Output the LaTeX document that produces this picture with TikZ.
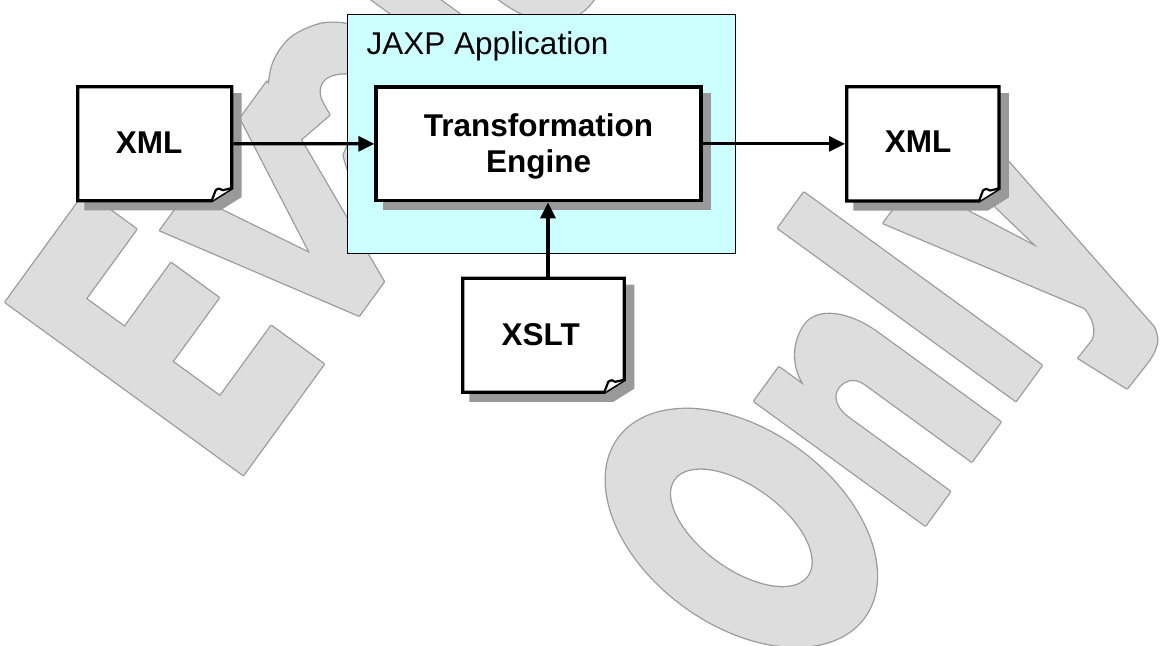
\documentclass[tikz,border=0pt]{standalone}
\usepackage{fontspec}
\setmainfont{Liberation Sans}
\usetikzlibrary{arrows.meta,shadows}

\definecolor{appcyan}{RGB}{204,255,255}
\definecolor{dropshade}{RGB}{153,153,153}
\definecolor{markfill}{RGB}{221,221,221}
\definecolor{markline}{RGB}{155,155,155}

\tikzset{
  markedge/.style={draw=markline, line width=2.6pt, line join=round},
  markface/.style={fill=markfill},
  boxedge/.style={draw=black, line width=3.3pt, line join=miter},
  pagebox/.style={rectangle, inner sep=0pt, outer sep=0pt},
  boldtext/.style={inner sep=0pt, font=\fontsize{31.5pt}{36pt}\selectfont\bfseries},
  plaintext/.style={inner sep=0pt, font=\fontsize{31.5pt}{36pt}\selectfont},
  flow/.style={draw=black, line width=3.2pt, -{Triangle[length=16pt,width=15pt]},
               shorten <=1.65pt, shorten >=1.65pt}
}

% watermark glyph outlines (glyph frame: x along the baseline, y up)
\newcommand\glyphE{(0,0) -- (137,0) -- (137,65) -- (50,65) -- (50,124) -- (129,124)
  -- (129,183) -- (50,183) -- (50,231) -- (136,231) -- (136,294) -- (0,294) -- cycle}
\newcommand\glyphV{(149,211) -- (195,211) -- (218.6,76) -- (287,212) -- (332,212)
  -- (239,0) -- (197,0) -- cycle}
\newcommand\glyphA{(342,142) -- (304,151) -- (298,185)
  -- plot[smooth, tension=0.6] coordinates {(326,206) (351,218) (379,219) (403,208) (418,194) (430,172) (438,145)}
  -- (440,0) -- (398,0)
  -- plot[smooth, tension=0.6] coordinates {(396,14) (372,-3) (335,-3) (305,20) (298,55) (305,88) (318,107)}
  -- (392,122)
  -- plot[smooth, tension=0.6] coordinates {(392,122) (388,148) (376,163) (363,167) (351,160) (342,142)}
  -- cycle}
\newcommand\glyphL{(460,0) -- (500,0) -- (500,294) -- (460,294) -- cycle}
\newcommand\glyphU{(535,211) -- (535,70) .. controls (535,22) and (556,-4) .. (590,-4)
  .. controls (604,-4) and (614,2) .. (621,10) -- (621,0) -- (662,0) -- (662,211)
  -- (620,211) -- (620,95) .. controls (620,60) and (606,42) .. (592,42)
  .. controls (583,42) and (578,52) .. (578,75) -- (578,211) -- cycle}
\newcommand\glyphO{(250,-434) ellipse [x radius=97, y radius=152]
  (250,-434) ellipse [x radius=42, y radius=83]}
\newcommand\glyphN{(360,-581.5) -- (360,-370) -- (402,-370) -- (402,-402)
  .. controls (410,-380) and (430,-366) .. (452,-366)
  .. controls (472,-366) and (488,-392) .. (488,-430) -- (488,-581.5) -- (439,-581.5)
  -- (439,-450) .. controls (439,-436) and (430,-430) .. (420,-430)
  .. controls (410,-430) and (402,-440) .. (402,-455) -- (402,-581.5) -- cycle}
\newcommand\glyphLL{(514,-581.5) -- (558,-581.5) -- (558,-287.5) -- (514,-287.5) -- cycle}
\newcommand\glyphY{(580,-370) -- (630.5,-370) -- (651,-510) -- (670.6,-370) -- (717.7,-370)
  -- (655,-649) .. controls (648,-664) and (636,-666) .. (615,-665) -- (589.5,-664)
  -- (585.4,-607) -- (608,-608) .. controls (618,-606) and (626,-597) .. (629.8,-583) -- cycle}

% document symbol with drop shadow and turned-up corner
\newcommand\docpage[1]{%
  \filldraw[dropshade, line width=3.3pt]
    ([shift={(8.3,8)}]#1.north west) -- ([shift={(8.3,8)}]#1.north east)
    -- ([shift={(8.3,-4.5)}]#1.south east) -- ([shift={(-11.7,8)}]#1.south east)
    -- ([shift={(8.3,8)}]#1.south west) -- cycle;
  \filldraw[boxedge, fill=white]
    (#1.north west) -- (#1.north east) -- ([shift={(0,-12.5)}]#1.south east)
    -- ([shift={(-20,0)}]#1.south east) -- (#1.south west) -- cycle;
  \filldraw[line width=2.2pt, fill=white, line join=round]
    ([shift={(-20,0)}]#1.south east) -- ([shift={(-16,-10.5)}]#1.south east)
    .. controls ([shift={(-13,-12.5)}]#1.south east) .. ([shift={(-9,-10.5)}]#1.south east)
    -- ([shift={(0,-12.5)}]#1.south east);
}

\begin{document}
\begin{tikzpicture}[x=1pt, y=-1pt]
\useasboundingbox (0,0) rectangle (1164,645);
\fill[white] (0,0) rectangle (1164,645);

% watermark lettering
\begin{scope}[shift={(243.3,475)}, x={(0.5878pt,0.8090pt)}, y={(-0.8090pt,0.5878pt)}]
  \draw[markedge] \glyphE \glyphV \glyphA \glyphL \glyphU \glyphO \glyphN \glyphLL \glyphY;
  \fill[markface] \glyphE;
  \fill[markface] \glyphV;
  \fill[markface] \glyphA;
  \fill[markface] \glyphL;
  \fill[markface] \glyphU;
  \fill[markface, even odd rule] \glyphO;
  \fill[markface] \glyphN;
  \fill[markface] \glyphLL;
  \fill[markface] \glyphY;
\end{scope}

% application frame
\node[pagebox, draw=black, line width=1.3pt, fill=appcyan,
      minimum width=387.8pt, minimum height=238.8pt] (app) at (541.5,134) {};
\node[plaintext, anchor=base west] (apptitle) at (366.5,54) {JAXP Application};

% transformation engine
\node[pagebox, boxedge, fill=white, minimum width=325pt, minimum height=113.7pt,
      drop shadow={shadow xshift=8.2pt, shadow yshift=-8.1pt, fill=dropshade,
                   draw=dropshade, line width=3.3pt, opacity=1}]
      (engine) at (538.5,143.85) {};
\node[boldtext, anchor=base] (engtop) at (538.5,136) {Transformation};
\node[boldtext, anchor=base] (engbot) at (538.5,172.7) {Engine};

% documents
\node[pagebox, minimum width=154pt, minimum height=114pt] (xmlin) at (154.7,143.7) {};
\docpage{xmlin}
\node[boldtext, anchor=base] (xmlintext) at (149,153.3) {XML};

\node[pagebox, minimum width=152.3pt, minimum height=114.3pt] (xmlout) at (922.85,143.85) {};
\docpage{xmlout}
\node[boldtext, anchor=base] (xmlouttext) at (918,152.7) {XML};

\node[pagebox, minimum width=161.6pt, minimum height=114pt] (xslt) at (543.5,335.3) {};
\docpage{xslt}
\node[boldtext, anchor=base] (xslttext) at (540.8,345) {XSLT};

% data flow
\draw[flow] (xmlin.east) -- (engine.west);
\draw[flow] (engine.east) -- (xmlout.west);
\draw[flow] ([xshift=4.5pt]xslt.north) -- ([xshift=4.5pt]xslt.north |- engine.south);
\end{tikzpicture}
\end{document}
